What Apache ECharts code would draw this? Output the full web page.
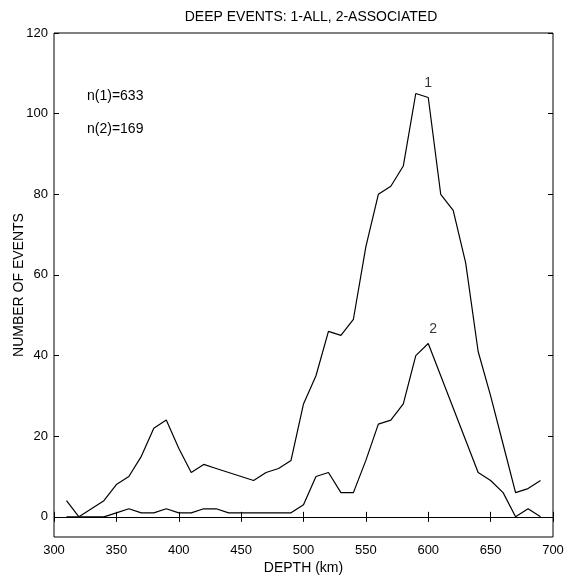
<!DOCTYPE html>
<html>
<head>
<meta charset="utf-8">
<script src="https://cdn.jsdelivr.net/npm/echarts@6/dist/echarts.min.js"></script>
<style>
  html, body { margin: 0; padding: 0; background: #fff; }
  #chart { width: 574px; height: 579px; }
</style>
</head>
<body>
<div id="chart"></div>
<script>
// Depth bins (km), 10 km spacing
const depths = [310, 320, 330, 340, 350, 360, 370, 380, 390, 400,
                410, 420, 430, 440, 450, 460, 470, 480, 490, 500,
                510, 520, 530, 540, 550, 560, 570, 580, 590, 600,
                610, 620, 630, 640, 650, 660, 670, 680, 690];

// Curve 1: all deep events
const allEvents = [4, 0, 2, 4, 8, 10, 15, 22, 24, 17,
                   11, 13, 12, 11, 10, 9, 11, 12, 14, 28,
                   35, 46, 45, 49, 67, 80, 82, 87, 105, 104,
                   80, 76, 63, 41, 30, 18, 6, 7, 9];

// Curve 2: associated events
const associatedEvents = [0, 0, 0, 0, 1, 2, 1, 1, 2, 1,
                          1, 2, 2, 1, 1, 1, 1, 1, 1, 3,
                          10, 11, 6, 6, 14, 23, 24, 28, 40, 43,
                          35, 27, 19, 11, 9, 6, 0, 2, 0];

// Curve labels placed at [depth, count]
const curveLabels = [
  { text: '1', at: [600, 107.5] },
  { text: '2', at: [604, 46.5] }
];

const countLabels = ['n(1)=633', 'n(2)=169'];

const xTicks = { min: 300, max: 700, interval: 50 };
const yRange = { min: -5, max: 120 };
const yTickValues = [0, 20, 40, 60, 80, 100, 120];

const font = '"Liberation Sans", Arial, Helvetica, sans-serif';

const chart = echarts.init(document.getElementById('chart'));

const pairs = (xs, ys) => xs.map((x, i) => [x, ys[i]]);

const lineStyle = { color: '#000', width: 1.2 };

chart.setOption({
  animation: false,
  backgroundColor: '#fff',
  title: {
    text: 'DEEP EVENTS: 1-ALL, 2-ASSOCIATED',
    left: 306, top: 5, textAlign: 'center',
    textStyle: { fontFamily: font, fontSize: 14, fontWeight: 'normal', color: '#000' }
  },
  grid: {
    left: 54, right: 21, top: 33, bottom: 42,
    outerBoundsMode: 'none',
    containLabel: false,
    show: true, borderColor: '#000', borderWidth: 1, backgroundColor: 'transparent'
  },
  xAxis: [{
    type: 'value', min: xTicks.min, max: xTicks.max, interval: xTicks.interval,
    position: 'bottom',
    name: 'DEPTH (km)', nameLocation: 'middle', nameGap: 24, nameMoveOverlap: false,
    nameTextStyle: { fontFamily: font, fontSize: 14, color: '#000' },
    axisLine: { show: false },
    axisTick: { show: true, inside: true, length: 5, lineStyle: { color: '#000' } },
    axisLabel: { fontFamily: font, fontSize: 13, color: '#000', margin: 7 },
    splitLine: { show: false }
  }, {
    type: 'value', min: xTicks.min, max: xTicks.max, interval: xTicks.interval,
    position: 'top',
    axisLine: { show: false },
    axisTick: { show: true, inside: true, length: 5, lineStyle: { color: '#000' } },
    axisLabel: { show: false },
    splitLine: { show: false }
  }],
  yAxis: [{
    type: 'value', min: yRange.min, max: yRange.max,
    position: 'left',
    name: 'NUMBER OF EVENTS', nameLocation: 'middle', nameGap: 28, nameRotate: 90,
    nameMoveOverlap: false,
    nameTextStyle: { fontFamily: font, fontSize: 14, color: '#000' },
    axisLine: { show: false },
    axisTick: { show: true, inside: true, length: 5, lineStyle: { color: '#000' },
                customValues: yTickValues },
    axisLabel: { fontFamily: font, fontSize: 13, color: '#000', margin: 6,
                 customValues: yTickValues },
    splitLine: { show: false }
  }, {
    type: 'value', min: yRange.min, max: yRange.max,
    position: 'right',
    axisLine: { show: false },
    axisTick: { show: true, inside: true, length: 5, lineStyle: { color: '#000' },
                customValues: yTickValues },
    axisLabel: { show: false },
    splitLine: { show: false }
  }],
  series: [{
    type: 'line',
    data: pairs(depths, allEvents),
    showSymbol: false,
    lineStyle: lineStyle,
    z: 3,
    markLine: {
      silent: true, symbol: 'none', label: { show: false },
      lineStyle: { color: '#000', width: 1, type: 'solid' },
      data: [{ yAxis: 0 }]
    }
  }, {
    type: 'line',
    data: pairs(depths, associatedEvents),
    showSymbol: false,
    lineStyle: lineStyle,
    z: 3
  }, {
    type: 'scatter',
    symbolSize: 0,
    data: curveLabels.map(c => ({ value: c.at, name: c.text })),
    label: {
      show: true, position: 'inside', formatter: p => p.name,
      fontFamily: font, fontSize: 14, color: '#000'
    }
  }],
  graphic: countLabels.map((t, i) => ({
    type: 'text', left: 87, top: 89 + i * 33,
    style: { text: t, fontFamily: font, fontSize: 14, fill: '#000' }
  }))
});
</script>
</body>
</html>
